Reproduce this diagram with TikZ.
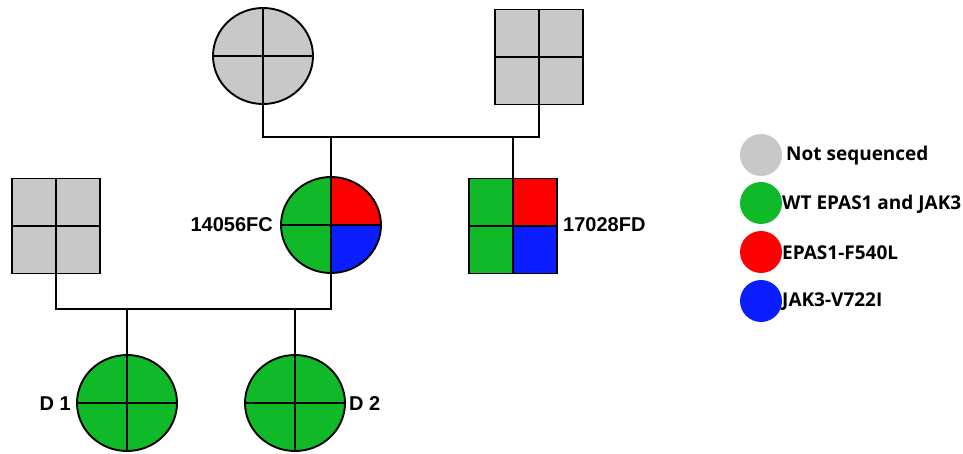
\documentclass[tikz,border=0pt]{standalone}
\usepackage{fontspec}
\setmainfont{Liberation Sans}
\newfontfamily\legfont{Open Sans}
\usetikzlibrary{shapes.geometric}
\definecolor{pgray}{RGB}{200,200,200}
\definecolor{pgreen}{RGB}{16,185,40}
\definecolor{pred}{RGB}{255,0,0}
\definecolor{pblue}{RGB}{10,30,255}
\begin{document}
\begin{tikzpicture}[x=1pt,y=-1pt,
  lbl/.style={font=\fontsize{20}{24}\selectfont\bfseries, inner sep=0pt},
  leg/.style={font=\legfont\fontsize{19}{22}\selectfont\bfseries, anchor=west, inner sep=0pt},
  dot/.style={circle, fill=#1, minimum size=42, inner sep=0pt},
  quads/.style n args={4}{path picture={
      \fill[#1] (path picture bounding box.center) rectangle (path picture bounding box.north west);
      \fill[#2] (path picture bounding box.center) rectangle (path picture bounding box.north east);
      \fill[#3] (path picture bounding box.center) rectangle (path picture bounding box.south west);
      \fill[#4] (path picture bounding box.center) rectangle (path picture bounding box.south east);
      \draw[black, line width=1.8pt] (path picture bounding box.north) -- (path picture bounding box.south)
            (path picture bounding box.west) -- (path picture bounding box.east);}},
  fem/.style={ellipse, draw, line width=1.9pt, minimum width=100, minimum height=96, inner sep=0pt},
  mal/.style={rectangle, draw, line width=1.9pt, minimum width=88, minimum height=95, inner sep=0pt},
  conn/.style={line width=1.7pt}
]
\useasboundingbox (0,0) rectangle (963,454);

% nodes
\node[fem, quads={pgray}{pgray}{pgray}{pgray}] (gm) at (263,56) {};
\node[mal, quads={pgray}{pgray}{pgray}{pgray}] (gf) at (539,57) {};
\node[mal, quads={pgray}{pgray}{pgray}{pgray}] (hb) at (56,226) {};
\node[fem, quads={pgreen}{pred}{pgreen}{pblue}] (m) at (331,225) {};
\node[mal, quads={pgreen}{pred}{pgreen}{pblue}] (s) at (513,226) {};
\node[fem, quads={pgreen}{pgreen}{pgreen}{pgreen}] (d1) at (127,403) {};
\node[fem, quads={pgreen}{pgreen}{pgreen}{pgreen}] (d2) at (295,403) {};

% labels
\node[lbl, anchor=east] (lm) at (273,225) {14056FC};
\node[lbl, anchor=west] (ls) at (563,225) {17028FD};
\node[lbl, anchor=east] (ld1) at (71,404) {D 1};
\node[lbl, anchor=west] (ld2) at (349,404) {D 2};

% connectors
\coordinate (cl) at (400,137);
\coordinate (cl2) at (200,309);
\draw[conn] (gm.south) -- (gm.south |- cl) -- (gf.south |- cl) -- (gf.south);
\draw[conn] (m.north |- cl) -- (m.north);
\draw[conn] (s.north |- cl) -- (s.north);
\draw[conn] (hb.south) -- (hb.south |- cl2) -- (m.south |- cl2) -- (m.south);
\draw[conn] (d1.north |- cl2) -- (d1.north);
\draw[conn] (d2.north |- cl2) -- (d2.north);

% legend
\node[dot=pgray] (k1) at (761,155) {};
\node[dot=pgreen] (k2) at (761,203) {};
\node[dot=pred] (k3) at (761,252) {};
\node[dot=pblue] (k4) at (761,301) {};
\node[leg] (t1) at (786,156) {Not sequenced};
\node[leg] (t2) at (782,204) {WT EPAS1 and JAK3};
\node[leg] (t3) at (782,253) {EPAS1-F540L};
\node[leg] (t4) at (782,302) {JAK3-V722I};
\end{tikzpicture}
\end{document}
